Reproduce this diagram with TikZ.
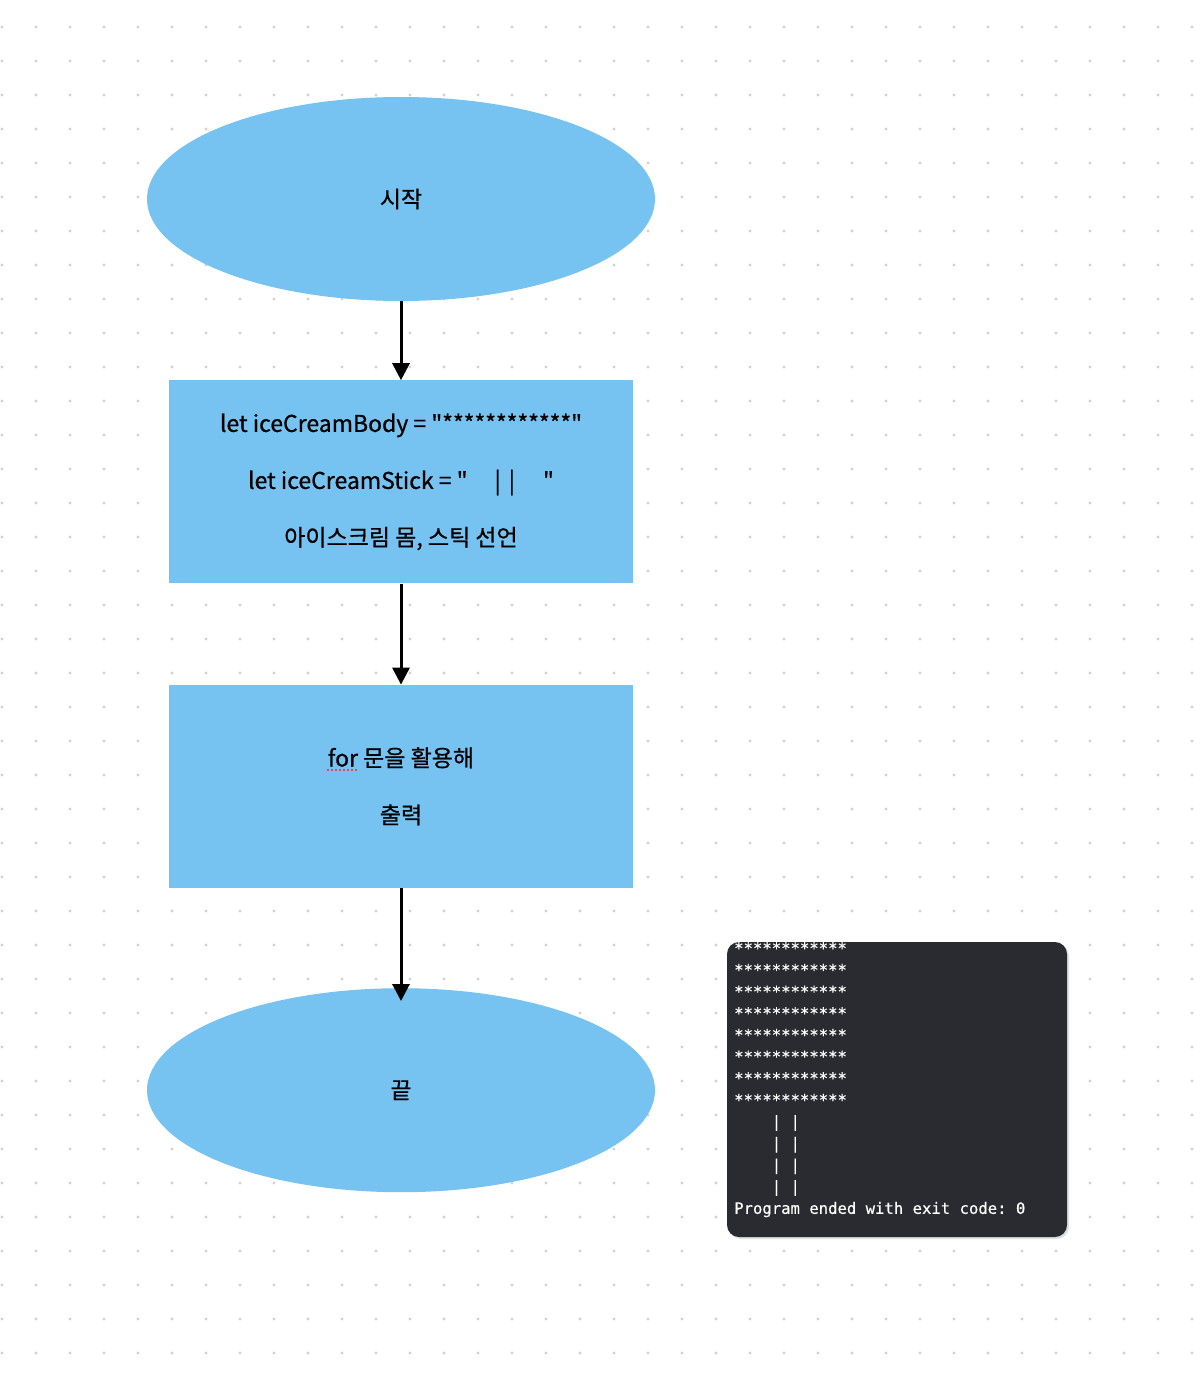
\documentclass[tikz,border=0pt]{standalone}
\usepackage{fontspec}
\usepackage{tikz}
\usetikzlibrary{positioning,shapes.geometric,arrows.meta}
\setmainfont{Noto Sans CJK KR}[FakeBold=0.7]
\newfontfamily\boxfont{Noto Sans CJK KR}[FakeBold=0.7]
\newfontfamily\termfont{DejaVu Sans Mono}[FakeBold=0.4]
\newcommand{\dq}{\symbol{34}}
\frenchspacing
\definecolor{flowblue}{HTML}{76C2F0}
\definecolor{termbg}{HTML}{2A2B30}
\definecolor{dotgray}{HTML}{D2D2D2}
\definecolor{spellred}{HTML}{E5484D}

\begin{document}
\begin{tikzpicture}[
        x=1pt, y=-1pt,
        every node/.style={
            inner sep=0pt,
            align=center,
            text=black,
            font=\boxfont\fontsize{23}{57}\selectfont
        },
        terminal/.style={
            ellipse,
            fill=flowblue,
            minimum width=508pt,
            minimum height=204pt
        },
        process/.style={
            rectangle,
            fill=flowblue,
            minimum width=464pt,
            minimum height=203pt
        },
        arrow/.style={
            -{Triangle[width=17pt,length=17pt]},
            line width=3pt,
            color=black
        },
        console/.style={
            rectangle,
            fill=termbg,
            rounded corners=12pt,
            minimum width=340pt,
            minimum height=295pt
        },
        consoletext/.style={
            anchor=north west,
            text=white,
            align=left,
            font=\termfont\fontsize{15.6}{21.67}\selectfont
        }
    ]
        \useasboundingbox (0,0) rectangle (1202,1378);
        \fill[white] (0,0) rectangle (1202,1378);
        % dotted canvas
        \foreach \i in {0,...,35}
            \foreach \j in {0,...,39}
                \fill[dotgray] (2+34*\i,27+34*\j) circle (1.6pt);

        \node (start) [terminal] at (401,199) {시작};
        \node (decl) [process, below=79pt of start]
            {let iceCreamBody = \dq************\dq\\
             let iceCreamStick = \dq\hspace{27pt}|\hspace{8pt}|\hspace{28pt}\dq\\
             아이스크림 몸, 스틱 선언};
        \node (loop) [process, below=101pt of decl]
            {for 문을 활용해\\출력};
        \node (finish) [terminal, below=100pt of loop] {끝};

        \draw[arrow] (start) -- (decl);
        \draw[arrow] (decl) -- (loop);
        \draw[arrow, shorten >=-13pt] (loop) -- (finish);

        % spell check mark under "for"
        \draw[spellred, line width=1.5pt, dash pattern=on 2pt off 2pt] (327,770) -- (358,770);

        % program output
        \fill[black!12, rounded corners=12pt] (729,944) rectangle (1069,1239);
        \node (output) [console] at (897,1089.5) {};
        \begin{scope}
            \clip[rounded corners=12pt] (727,942) rectangle (1067,1237);
            \node (outtext) [consoletext] at (734,942)
                {************\\************\\************\\************\\
                 ************\\************\\************\\************\\
                 \ \ \ \ |\ |\\\ \ \ \ |\ |\\\ \ \ \ |\ |\\\ \ \ \ |\ |\\
                 Program ended with exit code: 0};
        \end{scope}
\end{tikzpicture}
\end{document}
